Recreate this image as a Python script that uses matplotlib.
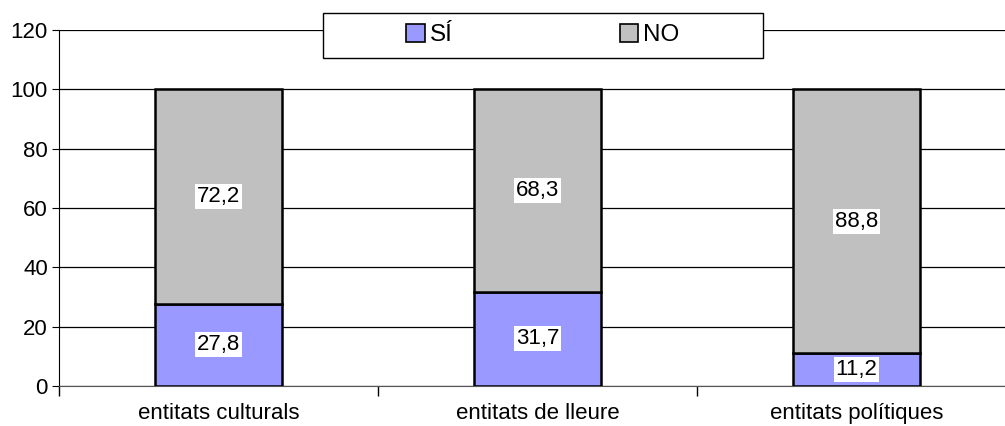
import numpy as np
import matplotlib.pyplot as plt
from matplotlib.patches import Rectangle

categories = ['entitats culturals', 'entitats de lleure', 'entitats polítiques']
si_values = [27.8, 31.7, 11.2]
no_values = [72.2, 68.3, 88.8]
series_names = ['SÍ', 'NO']
yticks = [0, 20, 40, 60, 80, 100, 120]

plt.rcParams['font.family'] = ['Liberation Sans', 'DejaVu Sans']
FS = 16

fig = plt.figure(figsize=(10.05, 4.26), dpi=100)
ax = fig.add_axes([59 / 1005, 1 - 386 / 426, (1016 - 59) / 1005, 356 / 426])

x = np.arange(len(categories))
w = 0.4
b1 = ax.bar(x, si_values, w, color='#9999ff', edgecolor='black', linewidth=1.8,
            label=series_names[0], zorder=3)
b2 = ax.bar(x, no_values, w, bottom=si_values, color='#c0c0c0', edgecolor='black',
            linewidth=1.8, label=series_names[1], zorder=3)

def fmt(v):
    return f'{v:.1f}'.replace('.', ',')

for rect, v in zip(b1, si_values):
    ax.text(rect.get_x() + rect.get_width() / 2, v / 2, fmt(v),
            ha='center', va='center', fontsize=FS, zorder=5,
            bbox=dict(facecolor='white', edgecolor='none', pad=1.5))
for rect, s, v in zip(b2, si_values, no_values):
    ax.text(rect.get_x() + rect.get_width() / 2, s + v / 2, fmt(v),
            ha='center', va='center', fontsize=FS, zorder=5,
            bbox=dict(facecolor='white', edgecolor='none', pad=1.5))

ax.set_xlim(-0.5, 2.5)
ax.set_ylim(0, 120)
ax.set_yticks(yticks)
ax.tick_params(axis='y', labelsize=FS, length=5, direction='out', pad=3)
ax.yaxis.grid(True, color='black', linewidth=0.9, zorder=0)
ax.set_xticks(x)
ax.set_xticklabels(categories, fontsize=FS)
ax.tick_params(axis='x', length=0, pad=12)
ax.set_xticks([-0.5, 0.5, 1.5, 2.5], minor=True)
ax.tick_params(axis='x', which='minor', length=7, width=1, direction='out')
for sp in ('top', 'right'):
    ax.spines[sp].set_visible(False)
ax.spines['left'].set_color('black')
ax.spines['bottom'].set_color('#555555')

# legend box drawn separately, entries centred inside
fig.patches.append(Rectangle((323 / 1005, 1 - 58 / 426), 440 / 1005, 45 / 426,
                             transform=fig.transFigure, facecolor='white',
                             edgecolor='black', linewidth=1, zorder=1))
leg = fig.legend(handles=[b1, b2], labels=series_names, ncol=2,
                 bbox_to_anchor=(543 / 1005, 1 - 35 / 426), loc='center',
                 fontsize=17.5, frameon=False, handlelength=0.75, handleheight=0.75,
                 handletextpad=0.2, columnspacing=6.9, borderaxespad=0)
for h in leg.legend_handles:
    h.set_linewidth(1.2)

fig.savefig('out.png', dpi=100)
